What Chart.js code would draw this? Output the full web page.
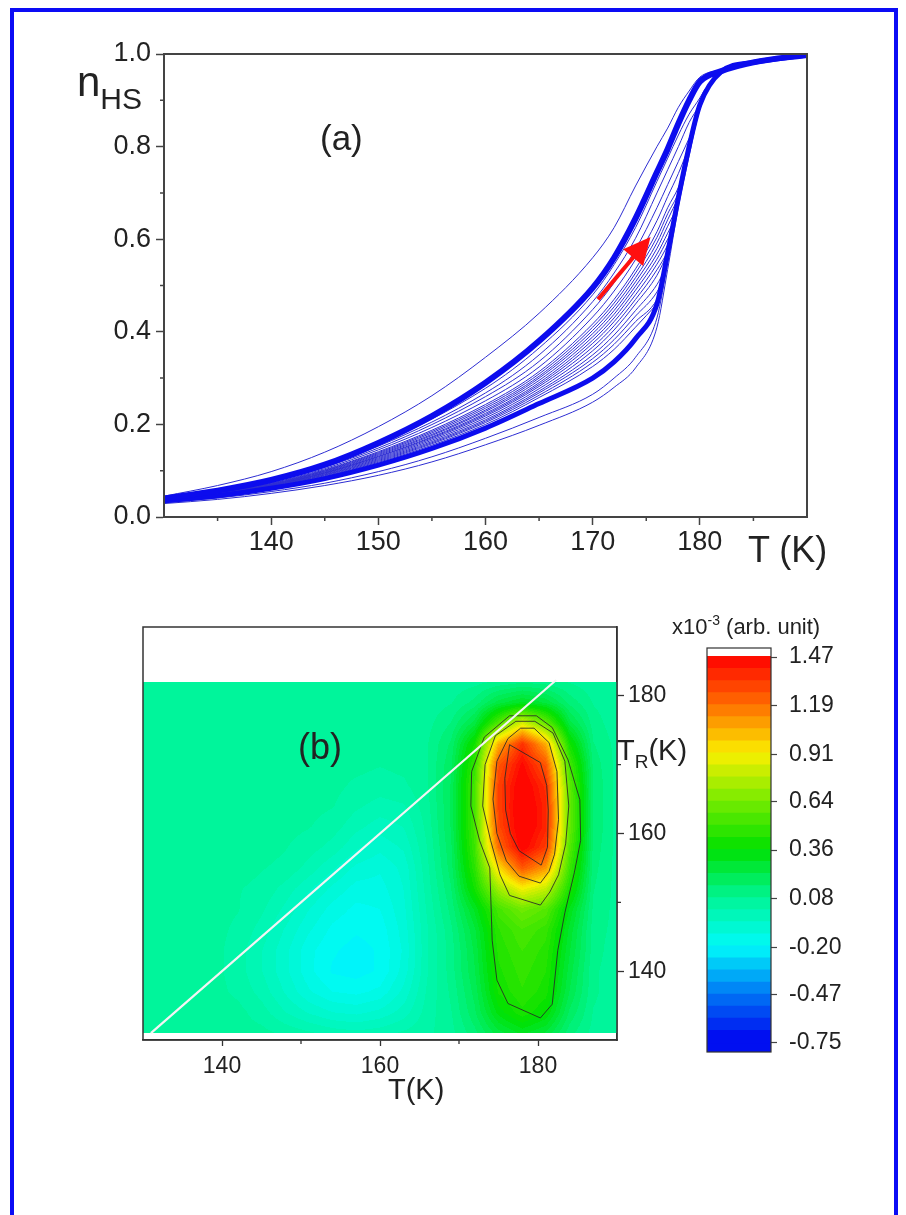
<!DOCTYPE html>
<html>
<head>
<meta charset="utf-8">
<script src="https://cdn.jsdelivr.net/npm/chart.js@4.4.0/dist/chart.umd.min.js"></script>
<style>
body{margin:0;background:#fff;width:906px;height:1215px;overflow:hidden;position:relative;font-family:"Liberation Sans",Arial,sans-serif;color:#222}
#frame{position:absolute;left:10px;top:8px;width:888px;height:1300px;border:4px solid #0c0cf5;box-sizing:border-box;pointer-events:none}
canvas{position:absolute}
.lbl{position:absolute;white-space:nowrap;line-height:1}
.lbl span{position:relative}
</style>
</head>
<body>
<canvas id="topChart" width="906" height="600" style="left:0;top:0;width:906px;height:600px"></canvas>
<canvas id="mapChart" width="906" height="615" style="left:0;top:600px;width:906px;height:615px"></canvas>
<canvas id="barChart" width="266" height="520" style="left:640px;top:600px;width:266px;height:520px"></canvas>

<div class="lbl" style="left:77px;top:61px;font-size:42px">n<span style="font-size:30px;top:13px">HS</span></div>
<div class="lbl" style="left:320px;top:120px;font-size:35px">(a)</div>
<div class="lbl" style="left:748px;top:532px;font-size:36px">T (K)</div>
<div class="lbl" style="left:298px;top:729px;font-size:36px">(b)</div>
<div class="lbl" style="left:388px;top:1075px;font-size:29px">T(K)</div>
<div class="lbl" style="left:617px;top:736px;font-size:29px">T<span style="font-size:19px;top:8px">R</span>(K)</div>
<div class="lbl" style="left:672px;top:616px;font-size:22px">x10<span style="font-size:14px;top:-9px">-3</span> (arb. unit)</div>
<div id="frame"></div>

<script>
// ---------- (a) n_HS vs T ----------
const tGrid = [130, 135, 140, 145, 150, 155, 160, 165, 170, 172, 174, 176, 177, 178, 179, 180, 182, 185, 190];
const coolingBand = [.040, .057, .080, .113, .160, .218, .290, .380, .495, .560, .645, .745, .795, .850, .900, .940, .963, .982, .998];
const heatingBand = [.035, .046, .062, .083, .112, .148, .192, .245, .300, .335, .385, .460, .570, .690, .800, .890, .962, .982, .998];
const outerCurve  = [.045, .068, .098, .140, .195, .262, .345, .440, .560, .625, .715, .800, .840, .885, .920, .950, .966, .983, .998];
const lowCurve1   = [.031, .041, .055, .073, .098, .130, .170, .215, .265, .300, .345, .430, .550, .680, .790, .885, .962, .982, .998];
const lowCurve2   = [.029, .038, .051, .068, .090, .119, .156, .198, .248, .280, .322, .410, .535, .670, .780, .880, .962, .982, .998];

// reversal curves: values at fanT below the reversal point, then the reversal point
const fanT = [130, 140, 150, 160, 165, 170, 172, 174, 176, 177, 178, 179, 180];
const fanRevT = [176.0, 176.25, 176.5, 176.75, 177.0, 177.15, 177.3, 177.45, 177.6, 177.8, 178.0, 178.25, 178.5, 179.0, 179.5, 180.0, 180.5];
const fanRevN = [.460, .485, .510, .535, .570, .585, .605, .620, .640, .665, .690, .718, .745, .800, .845, .890, .925];
const fanCurves = [
  [.036, .064, .118, .200, .258, .325, .362, .410],
  [.036, .065, .120, .204, .263, .334, .373, .422, .470],
  [.036, .066, .122, .207, .268, .342, .383, .434, .486],
  [.036, .066, .124, .210, .272, .350, .393, .446, .502],
  [.037, .067, .126, .214, .277, .359, .404, .460, .522],
  [.037, .068, .128, .218, .282, .367, .413, .470, .534, .575],
  [.037, .068, .130, .221, .286, .375, .422, .480, .546, .588],
  [.037, .068, .131, .224, .290, .382, .430, .490, .557, .600],
  [.038, .069, .133, .228, .295, .389, .438, .499, .568, .613],
  [.038, .070, .135, .231, .300, .396, .446, .508, .580, .628],
  [.038, .070, .137, .235, .304, .403, .454, .517, .592, .642],
  [.038, .071, .139, .239, .309, .410, .462, .527, .604, .655, .700],
  [.039, .072, .141, .243, .314, .417, .470, .536, .616, .668, .712],
  [.039, .073, .145, .251, .324, .432, .488, .556, .640, .692, .742],
  [.039, .075, .149, .260, .336, .448, .506, .578, .668, .718, .768, .818],
  [.040, .076, .153, .268, .350, .465, .527, .602, .700, .750, .800, .852],
  [.040, .078, .157, .278, .365, .480, .545, .625, .725, .775, .825, .870, .905]
];
const arrowFrom = [170.5, 0.47];
const arrowTo = [175.4, 0.605];

const topXTicks = [140, 150, 160, 170, 180];
const topXMinor = [135, 145, 155, 165, 175, 185];
const topYTicks = [0, 0.2, 0.4, 0.6, 0.8, 1.0];
const topYMinor = [0.1, 0.3, 0.5, 0.7, 0.9];

// ---------- (b) FORC map ----------
const heatT = [130, 133, 136, 139, 142, 145, 148, 151, 154, 157, 160, 163, 166, 169, 172, 175, 178, 181, 184, 187, 190];
const heatTR = [182, 179, 176, 173, 170, 167, 164, 161, 158, 155, 152, 149, 146, 143, 140, 137, 134, 131];
const heatZ = [
  [.06,.06,.06,.06,.06,.06,.06,.06,.06,.06,.06,.06,.06,.06,.07,.09,.11,.10,.08,.06,.06],
  [.06,.06,.06,.06,.06,.06,.06,.06,.06,.06,.06,.06,.06,.08,.13,.24,.30,.25,.14,.08,.06],
  [.06,.06,.06,.06,.06,.06,.06,.06,.06,.06,.06,.06,.07,.12,.24,.55,.85,.60,.24,.10,.06],
  [.06,.06,.06,.06,.06,.06,.06,.06,.06,.06,.06,.06,.08,.16,.40,1.05,1.35,1.05,.40,.12,.07],
  [.06,.06,.06,.06,.06,.06,.06,.06,.06,.06,.05,.06,.08,.18,.48,1.25,1.45,1.25,.52,.14,.07],
  [.06,.06,.06,.06,.06,.06,.06,.06,.06,.04,.03,.04,.08,.19,.52,1.30,1.50,1.35,.58,.15,.07],
  [.06,.06,.06,.06,.06,.06,.06,.06,.05,.02,.00,.01,.07,.19,.52,1.30,1.52,1.38,.60,.15,.07],
  [.06,.06,.06,.06,.06,.06,.06,.05,.03,-.01,-.04,-.02,.06,.19,.52,1.28,1.52,1.38,.60,.15,.07],
  [.06,.06,.06,.06,.06,.06,.05,.03,.00,-.05,-.08,-.05,.05,.18,.50,1.20,1.48,1.32,.56,.14,.07],
  [.06,.06,.06,.06,.06,.05,.04,.00,-.05,-.10,-.12,-.08,.04,.17,.46,.95,1.25,1.10,.50,.13,.07],
  [.06,.06,.06,.06,.05,.04,.00,-.05,-.10,-.14,-.14,-.09,.03,.15,.40,.72,.90,.80,.42,.12,.07],
  [.06,.06,.06,.06,.05,.02,-.03,-.09,-.14,-.17,-.16,-.10,.02,.13,.30,.52,.62,.56,.32,.11,.07],
  [.06,.06,.06,.06,.04,.00,-.06,-.12,-.17,-.19,-.18,-.11,.01,.11,.25,.46,.53,.48,.28,.10,.07],
  [.06,.06,.06,.06,.03,-.02,-.08,-.15,-.19,-.21,-.19,-.12,.01,.10,.23,.44,.50,.45,.26,.10,.06],
  [.06,.06,.06,.06,.03,-.02,-.08,-.15,-.20,-.21,-.19,-.11,.01,.10,.22,.42,.48,.43,.24,.09,.06],
  [.06,.06,.06,.06,.04,.00,-.06,-.12,-.16,-.17,-.15,-.08,.02,.09,.20,.40,.46,.41,.22,.09,.06],
  [.06,.06,.06,.06,.06,.03,-.02,-.06,-.09,-.10,-.08,-.04,.03,.08,.18,.34,.42,.36,.18,.08,.06],
  [.06,.06,.06,.06,.06,.06,.04,.02,.00,-.01,.00,.02,.04,.07,.14,.24,.30,.25,.13,.07,.06]
];
// contour lines (T, T_R)
const contour1T = [176.4, 179.8, 181.8, 183.8, 185.3, 185.4, 184.6, 183.4, 182.5, 181.8, 180.3, 176.2, 174.8, 174.2, 173.9, 172.6, 171.5, 171.6, 173.2, 176.4];
const contour1R = [177.1, 177.1, 175.4, 170.7, 164.9, 159.0, 154.3, 148.5, 143.0, 135.2, 133.2, 135.3, 138.7, 144.5, 155.0, 159.0, 164.0, 169.0, 174.0, 177.1];
const contour2T = [177.2, 179.6, 181.9, 183.4, 183.9, 183.5, 182.6, 181.5, 180.3, 176.4, 175.2, 174.0, 173.0, 173.3, 174.6, 177.2];
const contour2R = [176.3, 176.3, 174.6, 170.5, 164.0, 158.5, 154.0, 151.5, 149.6, 151.0, 154.0, 159.0, 164.0, 170.0, 174.2, 176.3];
const contour3T = [177.8, 179.5, 181.4, 182.4, 182.6, 182.1, 181.4, 180.3, 177.6, 176.0, 174.8, 174.3, 174.8, 176.2, 177.8];
const contour3R = [175.3, 175.3, 173.2, 169.0, 162.0, 157.0, 154.5, 152.8, 153.8, 156.0, 160.0, 165.0, 170.5, 173.8, 175.3];
const contour4T = [176.4, 180.3, 181.1, 181.3, 181.2, 180.4, 177.6, 176.5, 175.9, 175.8, 176.4];
const contour4R = [172.9, 170.3, 167.0, 163.4, 158.0, 155.4, 157.5, 160.0, 163.4, 168.0, 172.9];
const diagonal = [131, 182.3];

const mapXTicks = [140, 160, 180];
const mapXMinor = [150, 170];
const mapYTicks = [140, 160, 180];
const mapYMinor = [150, 170];

// colour scale
const cbTicks = [1.47, 1.19, 0.91, 0.64, 0.36, 0.08, -0.20, -0.47, -0.75];
const cbColors = [[255,0,0],[255,110,0],[250,240,0],[120,235,0],[0,225,0],[0,245,150],[0,250,250],[0,120,245],[0,0,240]];
const cbRange = [-0.802, 1.522];
const nBands = 32;
const mapBands = 64;

const fontFam = '"Liberation Sans", Arial, Helvetica, sans-serif';
Chart.defaults.font.family = fontFam;
Chart.defaults.color = '#222';

function pts(xs, ys) { return ys.map((v, i) => ({x: xs[i], y: v})); }
function fanPts(k) {
  const p = fanCurves[k].map((v, i) => ({x: fanT[i], y: v}));
  p.push({x: fanRevT[k], y: fanRevN[k]});
  return p;
}
function setTicks(arr) { return s => { s.ticks = arr.map(v => ({value: v})); }; }

function rawColor(v) {
  const n = cbTicks.length;
  if (v >= cbTicks[0]) return cbColors[0];
  if (v <= cbTicks[n - 1]) return cbColors[n - 1];
  for (let i = 0; i < n - 1; i++) {
    if (v <= cbTicks[i] && v >= cbTicks[i + 1]) {
      const f = (cbTicks[i] - v) / (cbTicks[i] - cbTicks[i + 1]);
      return cbColors[i].map((c, j) => Math.round(c + (cbColors[i + 1][j] - c) * f));
    }
  }
  return cbColors[n - 1];
}
const bandLo = cbTicks[cbTicks.length - 1], bandHi = cbTicks[0];
function bandColor(v, nb) {
  const bw = (bandHi - bandLo) / nb;
  let k = Math.floor((v - bandLo) / bw);
  k = Math.max(0, Math.min(nb - 1, k));
  return rawColor(bandLo + (k + 0.5) * bw);
}

const tickPlugin = {
  id: 'tickPlugin',
  afterDraw(chart, args, o) {
    const {ctx, chartArea: a, scales} = chart;
    ctx.save();
    ctx.strokeStyle = o.color;
    ctx.lineWidth = o.width;
    ctx.beginPath();
    (o.x || []).forEach(v => {
      const p = scales.x.getPixelForValue(v);
      ctx.moveTo(p, a.bottom); ctx.lineTo(p, a.bottom + o.len);
    });
    (o.y || []).forEach(v => {
      const p = scales.y.getPixelForValue(v);
      if (o.yRight) { ctx.moveTo(a.right, p); ctx.lineTo(a.right + o.len, p); }
      else { ctx.moveTo(a.left, p); ctx.lineTo(a.left - o.len, p); }
    });
    ctx.stroke();
    if (o.frame) {
      ctx.lineWidth = o.frameWidth;
      ctx.strokeRect(a.left, a.top, a.right - a.left, a.bottom - a.top);
    }
    ctx.restore();
  }
};

const arrowPlugin = {
  id: 'arrowPlugin',
  afterDatasetsDraw(chart) {
    const {ctx, scales: {x, y}} = chart;
    const x0 = x.getPixelForValue(arrowFrom[0]), y0 = y.getPixelForValue(arrowFrom[1]);
    const x1 = x.getPixelForValue(arrowTo[0]), y1 = y.getPixelForValue(arrowTo[1]);
    const ang = Math.atan2(y1 - y0, x1 - x0);
    const hl = 27, hw = 13;
    const bx = x1 - hl * Math.cos(ang), by = y1 - hl * Math.sin(ang);
    ctx.save();
    ctx.strokeStyle = '#ff1010';
    ctx.fillStyle = '#ff1010';
    ctx.lineWidth = 4;
    ctx.beginPath(); ctx.moveTo(x0, y0); ctx.lineTo(bx + 2 * Math.cos(ang), by + 2 * Math.sin(ang)); ctx.stroke();
    ctx.beginPath();
    ctx.moveTo(x1, y1);
    ctx.lineTo(bx + hw * Math.sin(ang), by - hw * Math.cos(ang));
    ctx.lineTo(bx - hw * Math.sin(ang), by + hw * Math.cos(ang));
    ctx.closePath(); ctx.fill();
    ctx.restore();
  }
};

// ---- top chart
const thin = 'rgb(45,45,210)';
const thick = 'rgb(12,12,238)';
const topSets = [
  {data: pts(tGrid, coolingBand), borderColor: thick, borderWidth: 6},
  {data: pts(tGrid, heatingBand), borderColor: thick, borderWidth: 5},
  {data: pts(tGrid, outerCurve), borderColor: thin, borderWidth: 1},
  {data: pts(tGrid, lowCurve1), borderColor: thin, borderWidth: 1},
  {data: pts(tGrid, lowCurve2), borderColor: thin, borderWidth: 1}
];
fanCurves.forEach((c, k) => topSets.push({data: fanPts(k), borderColor: thin, borderWidth: 1}));
topSets.forEach(d => { d.showLine = true; d.pointRadius = 0; d.cubicInterpolationMode = 'monotone'; });

new Chart(document.getElementById('topChart'), {
  type: 'scatter',
  data: {datasets: topSets},
  plugins: [tickPlugin, arrowPlugin],
  options: {
    responsive: false, animation: false, devicePixelRatio: 1,
    layout: {padding: {left: 0, top: 54, right: 99, bottom: 0}},
    plugins: {
      legend: {display: false}, tooltip: {enabled: false},
      tickPlugin: {x: topXMinor, y: topYMinor, len: 4, color: '#444', width: 1.5, frame: true, frameWidth: 2}
    },
    scales: {
      x: {
        type: 'linear', min: 130, max: 190,
        afterFit: s => { s.height = 83; },
        afterBuildTicks: setTicks(topXTicks),
        ticks: {font: {size: 27}, color: '#222', padding: 1, maxRotation: 0, autoSkip: false, callback: v => v},
        grid: {drawOnChartArea: false, tickLength: 8, tickColor: '#444', tickWidth: 1.5},
        border: {color: '#444', width: 2}
      },
      y: {
        min: 0, max: 1,
        afterFit: s => { s.width = 164; },
        afterBuildTicks: setTicks(topYTicks),
        ticks: {font: {size: 27}, color: '#222', padding: 5, callback: v => v.toFixed(1)},
        grid: {drawOnChartArea: false, tickLength: 8, tickColor: '#444', tickWidth: 1.5},
        border: {color: '#444', width: 2}
      }
    }
  }
});

// ---- map chart
function locate(arr, v) {
  const n = arr.length, asc = arr[n - 1] > arr[0];
  for (let i = 0; i < n - 1; i++) {
    const a = arr[i], b = arr[i + 1];
    if ((asc && v >= a && v <= b) || (!asc && v <= a && v >= b)) return [i, (v - a) / (b - a)];
  }
  return (asc ? v < arr[0] : v > arr[0]) ? [0, 0] : [n - 2, 1];
}

const heatLayer = {
  id: 'heatLayer',
  beforeDatasetsDraw(chart) {
    const {ctx, scales: {x, y}} = chart;
    const x0 = Math.round(x.getPixelForValue(heatT[0])), x1 = Math.round(x.getPixelForValue(heatT[heatT.length - 1]));
    const y0 = Math.round(y.getPixelForValue(heatTR[0])), y1 = Math.round(y.getPixelForValue(heatTR[heatTR.length - 1]));
    const w = x1 - x0, h = y1 - y0;
    const img = ctx.createImageData(w, h);
    const cols = [];
    for (let i = 0; i < w; i++) cols.push(locate(heatT, x.getValueForPixel(x0 + i + 0.5)));
    for (let j = 0; j < h; j++) {
      const [r, fr] = locate(heatTR, y.getValueForPixel(y0 + j + 0.5));
      const rowA = heatZ[r], rowB = heatZ[r + 1];
      for (let i = 0; i < w; i++) {
        const [c, fc] = cols[i];
        const top = rowA[c] + (rowA[c + 1] - rowA[c]) * fc;
        const bot = rowB[c] + (rowB[c + 1] - rowB[c]) * fc;
        const col = bandColor(top + (bot - top) * fr, mapBands);
        const k = (j * w + i) * 4;
        img.data[k] = col[0]; img.data[k + 1] = col[1]; img.data[k + 2] = col[2]; img.data[k + 3] = 255;
      }
    }
    ctx.putImageData(img, x0, y0);
  }
};

const lineSet = (xs, ys, color, width) => ({
  data: pts(xs, ys), showLine: true, pointRadius: 0, borderColor: color, borderWidth: width, tension: 0
});

new Chart(document.getElementById('mapChart'), {
  type: 'scatter',
  data: {datasets: [
    lineSet(diagonal, diagonal, '#f4f4f4', 2.2),
    lineSet(contour1T, contour1R, 'rgba(40,40,40,0.85)', 1),
    lineSet(contour2T, contour2R, 'rgba(40,40,40,0.85)', 1),
    lineSet(contour3T, contour3R, 'rgba(40,40,40,0.85)', 1),
    lineSet(contour4T, contour4R, 'rgba(40,40,40,0.85)', 1)
  ]},
  plugins: [heatLayer, tickPlugin],
  options: {
    responsive: false, animation: false, devicePixelRatio: 1,
    layout: {padding: {left: 143, top: 27, right: 0, bottom: 0}},
    plugins: {
      legend: {display: false}, tooltip: {enabled: false},
      tickPlugin: {x: mapXMinor, y: mapYMinor, yRight: true, len: 4, color: '#333', width: 1.3, frame: true, frameWidth: 1.5}
    },
    scales: {
      x: {
        type: 'linear', min: 130, max: 190,
        afterFit: s => { s.height = 175; },
        afterBuildTicks: setTicks(mapXTicks),
        ticks: {font: {size: 23}, color: '#222', padding: 7, maxRotation: 0, autoSkip: false, callback: v => v},
        grid: {drawOnChartArea: false, tickLength: 6, tickColor: '#333', tickWidth: 1.3},
        border: {color: '#333', width: 1.5}
      },
      y: {
        type: 'linear', position: 'right', min: 130, max: 190,
        afterFit: s => { s.width = 289; },
        afterBuildTicks: setTicks(mapYTicks),
        ticks: {font: {size: 23}, color: '#222', padding: 4, callback: v => v},
        grid: {drawOnChartArea: false, tickLength: 7, tickColor: '#333', tickWidth: 1.3},
        border: {color: '#333', width: 1.5}
      }
    }
  }
});

// ---- colour bar
const barSets = [];
const bandW = (bandHi - bandLo) / nBands;
for (let k = 0; k < nBands; k++) {
  const lo = bandLo + k * bandW, hi = lo + bandW;
  const c = rawColor(lo + bandW / 2);
  barSets.push({data: [[lo, hi + 0.004]], backgroundColor: `rgb(${c[0]},${c[1]},${c[2]})`});
}
const cLow = rawColor(bandLo + bandW / 2);
barSets.push({data: [[cbRange[0], bandLo + 0.004]], backgroundColor: `rgb(${cLow[0]},${cLow[1]},${cLow[2]})`});
barSets.push({data: [[bandHi, cbRange[1]]], backgroundColor: '#ffffff'});
barSets.forEach(d => { d.grouped = false; d.barPercentage = 1; d.categoryPercentage = 1; d.borderWidth = 0; });

new Chart(document.getElementById('barChart'), {
  type: 'bar',
  data: {labels: [''], datasets: barSets},
  plugins: [tickPlugin],
  options: {
    responsive: false, animation: false, devicePixelRatio: 1,
    layout: {padding: {left: 67, top: 48, right: 0, bottom: 68}},
    plugins: {
      legend: {display: false}, tooltip: {enabled: false},
      tickPlugin: {len: 0, color: '#333', width: 1, frame: true, frameWidth: 1.2}
    },
    scales: {
      x: {display: false},
      y: {
        position: 'right', min: cbRange[0], max: cbRange[1],
        afterFit: s => { s.width = 135; },
        afterBuildTicks: setTicks(cbTicks),
        ticks: {font: {size: 23}, color: '#222', padding: 12, callback: v => v.toFixed(2)},
        grid: {drawOnChartArea: false, tickLength: 6, tickColor: '#444', tickWidth: 1.2},
        border: {display: false}
      }
    }
  }
});
</script>
</body>
</html>
